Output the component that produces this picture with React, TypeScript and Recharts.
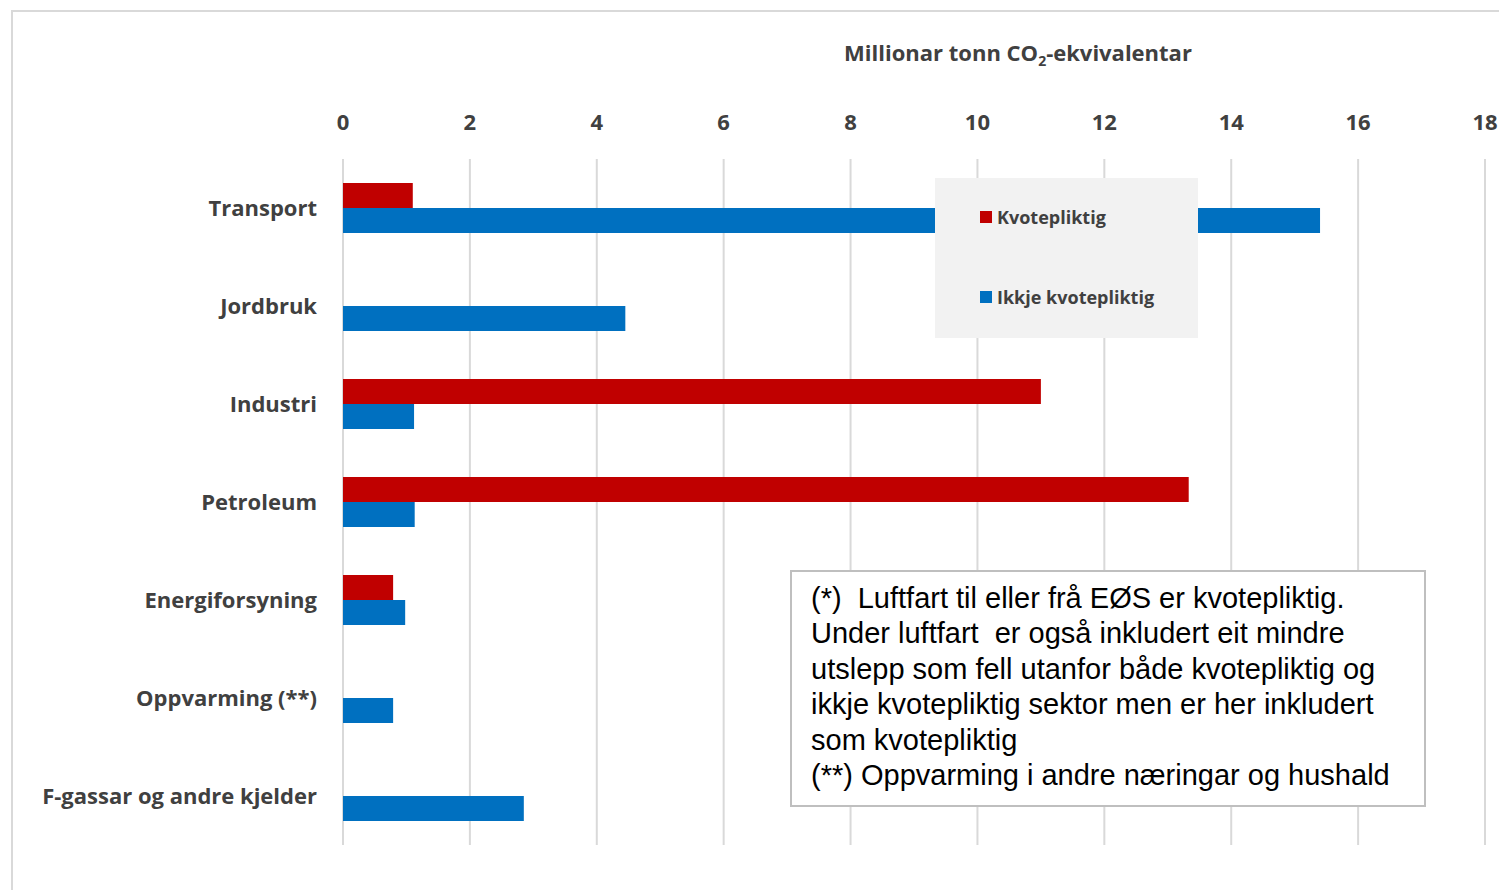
import React from 'react';
import { BarChart, Bar, XAxis, YAxis, CartesianGrid } from 'recharts';

const categories = [
  'Transport',
  'Jordbruk',
  'Industri',
  'Petroleum',
  'Energiforsyning',
  'Oppvarming (**)',
  'F-gassar og andre kjelder',
];
const kvotepliktig = [1.1, 0, 11.0, 13.33, 0.79, 0, 0];
const ikkjeKvotepliktig = [15.4, 4.45, 1.12, 1.13, 0.98, 0.79, 2.85];
const xTicks = [0, 2, 4, 6, 8, 10, 12, 14, 16, 18];

const seriesNames = ['Kvotepliktig', 'Ikkje kvotepliktig'];
const RED = '#C00000';
const BLUE = '#0070C0';
const TEXT = '#404040';
const FONT = '"Open Sans", "Noto Sans", sans-serif';

const noteLines = [
  '(*)  Luftfart til eller frå EØS er kvotepliktig.',
  'Under luftfart  er også inkludert eit mindre',
  'utslepp som fell utanfor både kvotepliktig og',
  'ikkje kvotepliktig sektor men er her inkludert',
  'som kvotepliktig',
  '(**) Oppvarming i andre næringar og hushald',
];

const data = categories.map((name, i) => ({
  name,
  kvote: kvotepliktig[i],
  ikkje: ikkjeKvotepliktig[i],
}));

const LegendBox = () => (
  <div
    style={{
      position: 'absolute',
      left: 935,
      top: 178,
      width: 263,
      height: 160,
      background: '#F2F2F2',
      fontFamily: FONT,
      fontWeight: 700,
      fontSize: 18,
      color: TEXT,
    }}
  >
    {seriesNames.map((n, i) => (
      <div
        key={n}
        style={{
          position: 'absolute',
          left: 45,
          top: 27 + i * 80,
          display: 'flex',
          alignItems: 'center',
          whiteSpace: 'nowrap',
        }}
      >
        <span
          style={{
            display: 'inline-block',
            width: 12,
            height: 12,
            background: i === 0 ? RED : BLUE,
            marginRight: 5,
          }}
        />
        {n}
      </div>
    ))}
  </div>
);

export default function App() {
  return (
    <div
      style={{
        position: 'absolute',
        left: 0,
        top: 0,
        width: 1499,
        height: 890,
        overflow: 'hidden',
        background: '#fff',
        fontFamily: FONT,
      }}
    >
      <div
        style={{
          position: 'absolute',
          left: 11,
          top: 10,
          width: 1520,
          height: 900,
          border: '2px solid #D9D9D9',
        }}
      />
      <div
        style={{
          position: 'absolute',
          left: 818,
          top: 37,
          width: 400,
          textAlign: 'center',
          fontWeight: 700,
          fontSize: 22,
          color: TEXT,
        }}
      >
        Millionar tonn CO<sub style={{ fontSize: 14 }}>2</sub>-ekvivalentar
      </div>
      <BarChart
        width={1499}
        height={890}
        data={data}
        layout="vertical"
        margin={{ top: 100, right: 14, bottom: 45, left: 0 }}
        barSize={25}
        barGap={0}
        style={{ position: 'absolute', left: 0, top: 0 }}
      >
        <CartesianGrid horizontal={false} stroke="#D9D9D9" strokeWidth={2} />
        <XAxis
          type="number"
          orientation="top"
          domain={[0, 18]}
          ticks={xTicks}
          height={59}
          axisLine={false}
          tickLine={false}
          tickSize={0}
          tickMargin={29}
          tick={{ fill: TEXT, fontSize: 22, fontWeight: 700, fontFamily: FONT }}
        />
        <YAxis
          type="category"
          dataKey="name"
          width={343}
          axisLine={false}
          tickLine={false}
          tickSize={0}
          tickMargin={26}
          tick={{ fill: TEXT, fontSize: 22, fontWeight: 700, fontFamily: FONT }}
        />
        <Bar dataKey="kvote" name={seriesNames[0]} fill={RED} isAnimationActive={false} />
        <Bar dataKey="ikkje" name={seriesNames[1]} fill={BLUE} isAnimationActive={false} />
      </BarChart>
      <LegendBox />
      <div
        style={{
          position: 'absolute',
          left: 790,
          top: 570,
          width: 636,
          height: 237,
          border: '2px solid #BFBFBF',
          background: '#fff',
          boxSizing: 'border-box',
          padding: '9px 0 0 19px',
          fontFamily: '"Liberation Sans", Arial, sans-serif',
          fontSize: 29,
          lineHeight: '35.4px',
          color: '#000',
          whiteSpace: 'pre',
        }}
      >
        {noteLines.map((l) => (
          <div key={l}>{l}</div>
        ))}
      </div>
    </div>
  );
}
